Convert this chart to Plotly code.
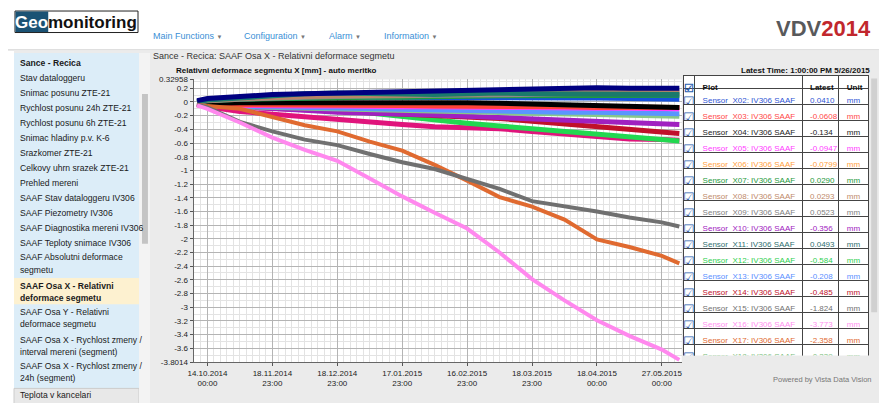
import plotly.graph_objects as go

W, H = 887, 403
PAGE_MARGIN = 8  # the browser puts the figure 8px in from the page corner

# reading positions along the time axis, in units of one tick interval
# (0 = 14.10.2014 00:00, 7 = 27.05.2015 00:00)
t = [-0.16, 0, 0.5, 1, 1.5, 2, 2.5, 3, 3.5, 4, 4.5, 5, 5.5, 6, 6.5, 7, 7.27]

tick_pos = [0, 1, 2, 3, 4, 5, 6, 7]
tick_text = ["14.10.2014<br>00:00", "18.11.2014<br>23:00", "18.12.2014<br>23:00",
             "17.01.2015<br>23:00", "16.02.2015<br>23:00", "18.03.2015<br>23:00",
             "18.04.2015<br>00:00", "27.05.2015<br>00:00"]

y_top = 0.32958
y_bottom = -3.8014
y_ticks = [0.32958, 0.2, 0, -0.2, -0.4, -0.6, -0.8, -1, -1.2, -1.4, -1.6, -1.8, -2, -2.2,
           -2.4, -2.6, -2.8, -3, -3.2, -3.4, -3.6, -3.8014]
y_tick_text = ["0.32958", "0.2", "0", "-0.2", "-0.4", "-0.6", "-0.8", "-1", "-1.2", "-1.4",
               "-1.6", "-1.8", "-2", "-2.2", "-2.4", "-2.6", "-2.8", "-3", "-3.2", "-3.4",
               "-3.6", "-3.8014"]

# relative deformation [mm]
x02 = [0.00, 0.02, 0.05, 0.06, 0.07, 0.07, 0.07, 0.07, 0.07, 0.07, 0.07, 0.07, 0.07, 0.06, 0.05, 0.04, 0.04]
x03 = [-0.02, -0.04, -0.04, -0.04, -0.04, -0.05, -0.05, -0.05, -0.06, -0.06, -0.07, -0.07, -0.07, -0.08, -0.08, -0.08, -0.08]
x04 = [0.00, -0.02, -0.01, -0.01, -0.01, -0.01, -0.01, 0.00, 0.00, -0.01, -0.02, -0.03, -0.04, -0.05, -0.06, -0.07, -0.08]
x05 = [-0.03, -0.05, -0.05, -0.06, -0.06, -0.06, -0.07, -0.07, -0.07, -0.08, -0.08, -0.08, -0.09, -0.09, -0.09, -0.10, -0.10]
x06 = [-0.02, -0.03, -0.03, -0.03, -0.03, -0.04, -0.04, -0.05, -0.05, -0.05, -0.06, -0.06, -0.06, -0.07, -0.07, -0.07, -0.08]
x07 = [0.00, 0.02, 0.04, 0.05, 0.06, 0.06, 0.07, 0.07, 0.08, 0.08, 0.09, 0.09, 0.09, 0.10, 0.10, 0.10, 0.10]
x08 = [0.00, 0.02, 0.05, 0.07, 0.08, 0.09, 0.09, 0.10, 0.11, 0.12, 0.13, 0.14, 0.14, 0.15, 0.15, 0.15, 0.15]
x09 = [0.00, 0.02, 0.04, 0.06, 0.07, 0.08, 0.08, 0.09, 0.10, 0.10, 0.11, 0.11, 0.12, 0.12, 0.13, 0.13, 0.13]
x10 = [-0.02, -0.04, -0.07, -0.09, -0.12, -0.15, -0.16, -0.18, -0.19, -0.21, -0.23, -0.25, -0.27, -0.29, -0.30, -0.32, -0.33]
x11 = [0.00, 0.03, 0.06, 0.09, 0.12, 0.13, 0.12, 0.11, 0.11, 0.12, 0.13, 0.12, 0.12, 0.12, 0.11, 0.11, 0.11]
x12 = [-0.02, -0.03, -0.06, -0.08, -0.10, -0.12, -0.16, -0.21, -0.27, -0.31, -0.35, -0.39, -0.43, -0.47, -0.51, -0.54, -0.57]
x13 = [-0.03, -0.05, -0.06, -0.07, -0.08, -0.09, -0.10, -0.10, -0.11, -0.12, -0.13, -0.14, -0.15, -0.15, -0.16, -0.17, -0.17]
x14 = [-0.02, -0.04, -0.07, -0.09, -0.11, -0.13, -0.15, -0.17, -0.19, -0.21, -0.24, -0.28, -0.32, -0.36, -0.40, -0.44, -0.46]
x15 = [-0.04, -0.08, -0.29, -0.43, -0.55, -0.63, -0.76, -0.88, -0.98, -1.12, -1.27, -1.45, -1.52, -1.60, -1.69, -1.76, -1.82]
x16 = [-0.05, -0.10, -0.30, -0.52, -0.70, -0.86, -1.12, -1.38, -1.62, -1.85, -2.20, -2.59, -2.90, -3.19, -3.42, -3.62, -3.77]
x17 = [-0.04, -0.06, -0.10, -0.22, -0.34, -0.43, -0.58, -0.71, -0.92, -1.15, -1.39, -1.53, -1.72, -2.01, -2.12, -2.25, -2.36]
x18 = [-0.03, -0.05, -0.07, -0.08, -0.09, -0.10, -0.11, -0.12, -0.13, -0.14, -0.15, -0.16, -0.17, -0.18, -0.19, -0.20, -0.21]
# two more plots whose rows are scrolled out of the table
x19 = [0.02, 0.05, 0.08, 0.11, 0.12, 0.13, 0.14, 0.14, 0.16, 0.16, 0.17, 0.18, 0.19, 0.21, 0.20, 0.19, 0.20]
x20 = [-0.04, -0.07, -0.14, -0.18, -0.22, -0.26, -0.30, -0.33, -0.36, -0.37, -0.39, -0.43, -0.47, -0.51, -0.54, -0.55, -0.56]

series = {"X02": x02, "X03": x03, "X04": x04, "X05": x05, "X06": x06, "X07": x07,
          "X08": x08, "X09": x09, "X10": x10, "X11": x11, "X12": x12, "X13": x13,
          "X14": x14, "X15": x15, "X16": x16, "X17": x17, "X18": x18, "X19": x19, "X20": x20}

colors = {"X02": "#1652dc", "X03": "#ff4438", "X04": "#000000", "X05": "#ff3cff",
          "X06": "#ffa040", "X07": "#1e9a3c", "X08": "#b98466", "X09": "#8a8a8a",
          "X10": "#a020c0", "X11": "#1a7a6c", "X12": "#22d850", "X13": "#5a95ff",
          "X14": "#c0102a", "X15": "#707070", "X16": "#ff88ee", "X17": "#e06a30",
          "X18": "#88c888", "X19": "#000080", "X20": "#e0147c"}

# table
table_header = ["☑", "Plot", "Latest", "Unit"]
table_sensors = ["X02", "X03", "X04", "X05", "X06", "X07", "X08", "X09", "X10",
                 "X11", "X12", "X13", "X14", "X15", "X16", "X17", "X18"]
latest = ["0.0410", "-0.0608", "-0.134", "-0.0947", "-0.0799", "0.0290", "0.0293", "0.0523",
          "-0.356", "0.0493", "-0.584", "-0.208", "-0.485", "-1.824", "-3.773", "-2.358", "-0.239"]
text_colors = {"X02": "#2f55d4", "X03": "#ff4848", "X04": "#222222", "X05": "#ff3cff",
               "X06": "#ffa040", "X07": "#1e9a3c", "X08": "#c08a6a", "X09": "#808080",
               "X10": "#a020c0", "X11": "#2f6f6f", "X12": "#30d050", "X13": "#5a8fff",
               "X14": "#c0102a", "X15": "#707070", "X16": "#ff90f0", "X17": "#e06a30",
               "X18": "#80c080"}

# sidebar menu: text, row centre (px from top), bold
sidebar_items = [
    ("Sance - Recica", 60, True),
    ("Stav dataloggeru", 75.5, False),
    ("Snimac posunu ZTE-21", 90.8, False),
    ("Rychlost posunu 24h ZTE-21", 106.1, False),
    ("Rychlost posunu 6h ZTE-21", 121.4, False),
    ("Snimac hladiny p.v. K-6", 136.7, False),
    ("Srazkomer ZTE-21", 152, False),
    ("Celkovy uhrn srazek ZTE-21", 167.3, False),
    ("Prehled mereni", 182.6, False),
    ("SAAF Stav dataloggeru IV306", 197.9, False),
    ("SAAF Piezometry IV306", 213.2, False),
    ("SAAF Diagnostika mereni IV306", 228.5, False),
    ("SAAF Teploty snimace IV306", 243.8, False),
    ("SAAF Absolutni deformace", 259, False),
    ("segmetu", 271.5, False),
    ("SAAF Osa X - Relativni", 288, True),
    ("deformace segmetu", 300.5, True),
    ("SAAF Osa Y - Relativni", 315, False),
    ("deformace segmetu", 327.5, False),
    ("SAAF Osa X - Rychlost zmeny /", 343, False),
    ("interval mereni (segment)", 355.5, False),
    ("SAAF Osa X - Rychlost zmeny /", 370, False),
    ("24h (segment)", 382.5, False),
    ("Teplota v kancelari", 400, False),
]

menu_items = [("Main Functions", 147), ("Configuration", 239), ("Alarm", 325), ("Information", 380)]

SANS = "Liberation Sans, Arial, sans-serif"


def px(x):
    return (x - PAGE_MARGIN) / W


def py(y):
    return 1 - (y - PAGE_MARGIN) / H


def rect(x0, y0, x1, y1, fill, line_color=None):
    return dict(type="rect", xref="paper", yref="paper", layer="below",
                x0=px(x0), x1=px(x1), y0=py(y0), y1=py(y1), fillcolor=fill,
                line=dict(width=1 if line_color else 0, color=line_color or fill))


def label(text, x, y, size, color="#222222", anchor="left"):
    return dict(text=text, x=px(x), y=py(y), xref="paper", yref="paper",
                xanchor=anchor, yanchor="middle", showarrow=False,
                font=dict(size=size, color=color, family=SANS), borderpad=0)


fig = go.Figure()

draw_order = ["X20", "X12", "X14", "X10", "X18", "X13", "X06", "X05", "X03", "X04",
              "X02", "X07", "X09", "X08", "X11", "X19", "X17", "X15", "X16"]
for key in draw_order:
    wide = key not in ("X15", "X16", "X17")
    fig.add_trace(
        go.Scatter(
            x=t,
            y=series[key],
            mode="lines",
            line=dict(color=colors[key], width=5 if wide else 4),
            name="Sensor_" + key,
            hoverinfo="skip"
        )
    )

n = len(table_sensors)
fig.add_trace(
    go.Table(
        domain=dict(x=[px(683), px(870)], y=[py(360), py(73)]),
        columnwidth=[11, 108, 37, 30],
        header=dict(
            values=table_header,
            align=["center", "left", "left", "left"],
            fill_color="white",
            line=dict(color="#444444", width=1),
            font=dict(size=[11, 8, 8, 8], color=["#2a5db0", "#111", "#111", "#111"],
                      family=SANS, weight="bold"),
            height=13
        ),
        cells=dict(
            values=[["☑"] * n,
                    ["Sensor_%s:\u00a0IV306\u00a0SAAF" % s for s in table_sensors],
                    latest,
                    ["mm"] * n],
            align=["center", "left", "left", "left"],
            fill_color="white",
            line=dict(color="#444444", width=1),
            font=dict(size=[13, 8, 8, 8],
                      color=[["#2a5db0"] * n] + [[text_colors[s] for s in table_sensors]] * 3,
                      family=SANS),
            height=16
        )
    )
)

shapes = [
    # header line and grey page body
    rect(0, 46, 895, 47.5, "#d4d4d4"),
    rect(8, 47.5, 880, 411, "#ebebeb"),
    # sidebar
    rect(8, 50, 134, 393, "#dcedf8"),
    rect(8, 280, 134, 307, "#fdf1d0"),
    rect(8, 393, 134, 411, "#e8e8e8", "#cccccc"),
    rect(134, 50, 145, 411, "#f3f3f3"),
    rect(137, 92, 143, 245, "#c4c4c4"),
    # plot area
    rect(189, 77, 681, 366, "white"),
    # table scrollbar
    rect(872, 76, 878, 315, "#d0d0d0"),
    # logo
    rect(9, 7, 133, 29, "white", "#222222"),
    rect(9.5, 7.5, 42.5, 28.5, "#1b5274"),
]

annotations = [
    label("<b>Geo</b>", 26, 18.5, 17, "white", anchor="center"),
    label("<b>monitoring</b>", 87.5, 18.5, 17, "#111111", anchor="center"),
    label("<b><span style='color:#58595b'>VDV</span><span style='color:#c1272d'>2014</span></b>",
          873, 25, 22, anchor="right"),
    label("Sance - Recica: SAAF Osa X - Relativni deformace segmetu", 147, 52.5, 9, "#333333"),
    label("<b>Relativni deformace segmentu X [mm] - auto meritko</b>", 170, 67.5, 8, "#111111"),
    label("<b>Latest Time: 1:00:00 PM 5/26/2015</b>", 872, 67.5, 8, "#111111", anchor="right"),
    label("Powered by Vista Data Vision", 874, 384, 7.5, "#777777", anchor="right"),
]

for text, x in menu_items:
    annotations.append(
        label(text + " <span style='color:#777777;font-size:6px'>▼</span>", x, 33, 9, "#3a8fd6"))

for text, y, bold in sidebar_items:
    annotations.append(
        label("<b>%s</b>" % text if bold else text, 13, y, 8.6, "#1a1a1a"))

fig.update_layout(
    width=W,
    height=H,
    margin=dict(l=0, r=0, t=0, b=0),
    paper_bgcolor="white",
    plot_bgcolor="white",
    showlegend=False,
    shapes=shapes,
    annotations=annotations
)

fig.update_xaxes(
    domain=[px(189), px(681)],
    range=[-0.214, 7.306],
    tickmode="array",
    tickvals=tick_pos,
    ticktext=tick_text,
    tickfont=dict(size=8, color="#222222", family=SANS),
    ticks="outside",
    ticklen=3,
    tickcolor="#555555",
    showline=True,
    linecolor="#666666",
    showgrid=True,
    gridcolor="#b4b4b4",
    zeroline=False,
    minor=dict(tickmode="linear", tick0=0, dtick=0.1, showgrid=True, gridcolor="#e3e3e3")
)

fig.update_yaxes(
    domain=[py(366), py(77)],
    range=[y_bottom, y_top],
    tickmode="array",
    tickvals=y_ticks,
    ticktext=y_tick_text,
    tickfont=dict(size=8, color="#222222", family=SANS),
    ticks="outside",
    ticklen=3,
    tickcolor="#555555",
    showline=True,
    linecolor="#666666",
    showgrid=True,
    gridcolor="#b4b4b4",
    zeroline=False,
    minor=dict(tickmode="linear", tick0=0, dtick=0.1, showgrid=True, gridcolor="#e3e3e3")
)

fig.write_html("out.html")
